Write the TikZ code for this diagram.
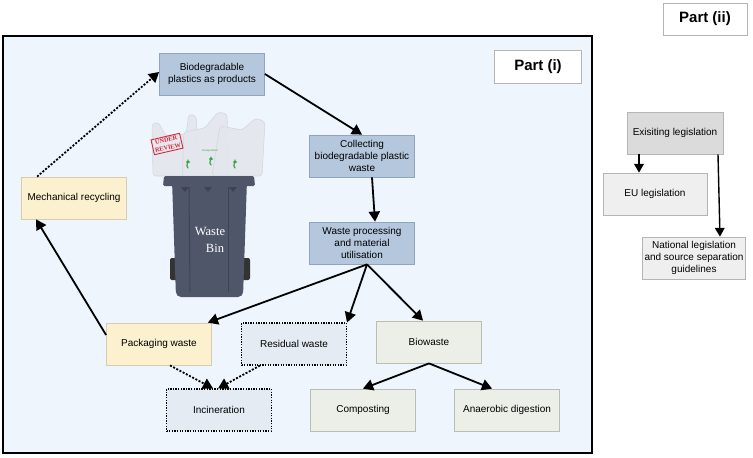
\documentclass[tikz,border=0pt]{standalone}
\usepackage{fontspec}
\setmainfont{Liberation Sans}
\newfontfamily\binfont{Liberation Serif}
\usepackage{tikz}
\usetikzlibrary{positioning}
\usetikzlibrary{arrows}
\definecolor{framefill}{HTML}{EEF5FD}
\definecolor{bluefill}{HTML}{B5C7DD}
\definecolor{bluedge}{HTML}{8FA4BF}
\definecolor{yellowfill}{HTML}{FBF1CF}
\definecolor{yellowedge}{HTML}{D6CDB0}
\definecolor{dotfill}{HTML}{E5EBF3}
\definecolor{greenfill}{HTML}{ECEFE7}
\definecolor{greenedge}{HTML}{B9BDB2}
\definecolor{lawdark}{HTML}{DBDBDB}
\definecolor{lawlight}{HTML}{EFEFEF}
\definecolor{lawedge}{HTML}{B5B5B5}
\definecolor{bincol}{HTML}{50566A}
\definecolor{bindark}{HTML}{3E4354}
\definecolor{bagcol}{HTML}{E3E6ED}
\definecolor{bagedge}{HTML}{D3D7E0}
\definecolor{stampred}{HTML}{D8283A}
\definecolor{sproutgreen}{HTML}{3BA54A}
\newcommand{\boxfont}{\fontsize{10}{12}\selectfont}
\tikzstyle{every box} = [minimum width=105pt, minimum height=42pt, align=center, font=\boxfont, inner sep=1pt, line width=0.8pt]
\tikzstyle{bluebox} = [every box, draw=bluedge, fill=bluefill]
\tikzstyle{yellowbox} = [every box, draw=yellowedge, fill=yellowfill]
\tikzstyle{dotbox} = [every box, draw=black, fill=dotfill, line width=1.1pt, dash pattern=on 1.3pt off 1.3pt]
\tikzstyle{greenbox} = [every box, draw=greenedge, fill=greenfill]
\tikzstyle{lawbox} = [every box, draw=lawedge, fill=lawlight]
\tikzstyle{partbox} = [draw=lawedge, fill=white, line width=0.8pt, font=\fontsize{15}{18}\selectfont\bfseries]
\tikzstyle{every link} = [line width=1.8pt]
\tikzstyle{link} = [>=triangle 60, ->, draw, every link]
\tikzstyle{dotlink} = [link, dash pattern=on 2pt off 1.6pt]
\tikzstyle{lawlink} = [link, line width=1.4pt]

\begin{document}
\begin{tikzpicture}[x=1pt, y=-1pt]
\useasboundingbox (0,0) rectangle (753,458);
% part (i) frame
\draw[fill=framefill, line width=2pt] (3,36) rectangle (592,453);

% bags in the bin
\begin{scope}[fill=bagcol, draw=bagedge, line width=0.6pt, fill opacity=0.9, rounded corners=3pt]
\filldraw (153,176) -- (152,124) -- (158,122) -- (166,136) -- (186,134) -- (189,114) -- (196,116) -- (200,176) -- cycle;
\filldraw (182,176) -- (184,132) -- (205,128) -- (218,112) -- (227,114) -- (229,176) -- cycle;
\filldraw (212,176) -- (220,126) -- (242,130) -- (256,118) -- (265,122) -- (262,176) -- cycle;
\end{scope}
\node[font=\fontsize{2.5}{3}\selectfont, text=sproutgreen, inner sep=0] (biolabel) at (210,151) {biodegradable};
\foreach \sx/\sy [count=\i] in {188/163, 211/160, 235/163}{
  \draw[sproutgreen, line width=1.2pt, line cap=round] (\sx,\sy+5) .. controls (\sx-3,\sy+2) and (\sx+1,\sy) .. (\sx,\sy-3);
  \fill[sproutgreen] (\sx,\sy-1) ellipse (2pt and 1pt);
}
\node[draw=stampred, line width=0.9pt, text=stampred, rotate=13, inner sep=1.5pt, align=center,
  font=\binfont\bfseries\fontsize{6.3}{8}\selectfont] (stamp) at (167,144) {UNDER\\REVIEW};

% waste bin
\fill[black!80, rounded corners=2pt] (170,258) rectangle (178,280);
\fill[black!80, rounded corners=2pt] (242,258) rectangle (250,280);
\fill[bincol, rounded corners=5pt] (172,180) -- (247,180) -- (243,297) -- (176,297) -- cycle;
\fill[bincol, rounded corners=1.5pt] (163,186) -- (164,176) -- (254,176) -- (255,186) -- cycle;
\draw[bindark, line width=1pt] (189,187) -- (190,292);
\draw[bindark, line width=1pt] (228,187) -- (228,292);
\foreach \tx in {185,208,233}
  \fill[bindark] (\tx-4,187) -- (\tx+4,187) -- (\tx,192) -- cycle;
\node[text=white, align=center, font=\binfont\fontsize{12.5}{17}\selectfont] (binlabel) at (210,240) {Waste\\\hspace*{10pt}Bin};

% part (i) nodes
\node[partbox, minimum width=87pt, minimum height=33pt] (part1) at (538,67) {Part (i)};
\node[bluebox] (product) at (212,74) {Biodegradable\\plastics as products};
\node[bluebox] (collect) at (362,156) {Collecting\\biodegradable plastic\\waste};
\node[bluebox] (process) at (362,243) {Waste processing\\and material\\utilisation};
\node[yellowbox] (mech) at (74,198) {Mechanical recycling};
\node[yellowbox] (packaging) at (159,344) {Packaging waste};
\node[dotbox] (residual) at (294,344) {Residual waste};
\node[greenbox] (biowaste) at (429,342) {Biowaste};
\node[dotbox] (incin) at (219,410) {Incineration};
\node[greenbox] (compost) at (363,410) {Composting};
\node[greenbox] (anaerobic) at (507,410) {Anaerobic digestion};

\draw[link] (product.east) -- (collect.north);
\draw[link] ([xshift=10pt]collect.south) -- ([xshift=13pt]process.north);
\coordinate (split) at ([xshift=5pt]process.south);
\draw[link] (split) -- ([xshift=-4pt]packaging.north east);
\draw[link] (split) -- (residual.north east);
\draw[link] (split) -- ([xshift=-6pt]biowaste.north);
\draw[link] ([yshift=9pt]packaging.west) -- ([xshift=15pt]mech.south west);
\draw[dotlink] ([xshift=16pt]mech.north west) -- ([yshift=2pt]product.west);
\draw[dotlink] ([xshift=11pt]packaging.south) -- ([xshift=-6pt]incin.north);
\draw[dotlink] ([xshift=-34pt]residual.south) -- ([xshift=-1pt]incin.north);
\draw[link] (biowaste.south) -- (compost.north);
\draw[link] (biowaste.south) -- ([xshift=-15pt]anaerobic.north);

% part (ii)
\node[partbox, minimum width=84pt, minimum height=32pt] (part2) at (705,19) {Part (ii)};
\node[lawbox, fill=lawdark, minimum width=96pt] (existing) at (675,133) {Exisiting legislation};
\node[lawbox, minimum width=104pt] (eu) at (655,194) {EU legislation};
\node[lawbox, minimum width=103pt] (national) at (694,258) {National legislation\\and source separation\\guidelines};
\draw[lawlink] ([xshift=-36pt]existing.south) -- ([xshift=-36pt]existing.south |- eu.north);
\draw[lawlink] ([xshift=43pt]existing.south) -- ([xshift=26pt]national.north);
\end{tikzpicture}
\end{document}
